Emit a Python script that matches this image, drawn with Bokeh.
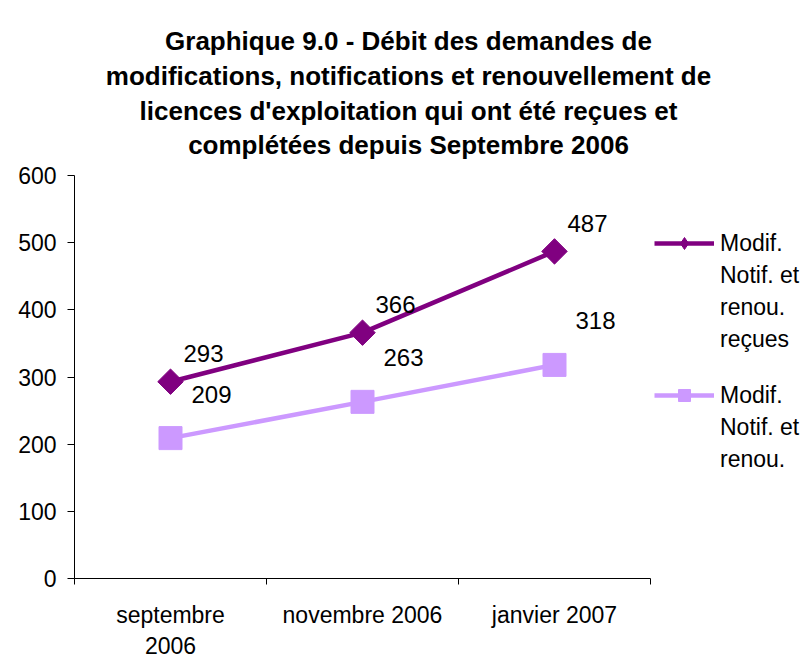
import math
from bokeh.plotting import figure
from bokeh.layouts import column
from bokeh.models import (ColumnDataSource, Range1d, FixedTicker, Legend, LegendItem, Title)
from bokeh.core.properties import value
from bokeh.embed import file_html
from bokeh.resources import INLINE

categories = ["septembre\n2006", "novembre 2006", "janvier 2007"]
recues = [293, 366, 487]
completees = [209, 263, 318]
series1_lines = ["Modif.", "Notif. et", "renou.", "reçues"]
series2_lines = ["Modif.", "Notif. et", "renou."]
title_lines = ["Graphique 9.0 - Débit des demandes de",
               "modifications, notifications et renouvellement de",
               "licences d'exploitation qui ont été reçues et",
               "complétées depuis Septembre 2006"]
y_ticks = [0, 100, 200, 300, 400, 500, 600]

FONT = "Liberation Sans"
DARK = "#800080"
LIGHT = "#CC99FF"
AX_FS = "23px"

W = 810
LEFT = 74
TITLE_CENTER = 408
TITLE_H = 160          # height of the title strip
TOP_PAD = 15           # main plot frame top below the strip
MAIN_H = 661 - TITLE_H
FRAME_BOTTOM = 578     # page y of the x axis

# ---- title strip: a frame-less figure whose frame is centred under the title ----
tf = figure(width=W, height=TITLE_H, output_backend="svg", toolbar_location=None,
            x_axis_location=None, y_axis_location=None,
            min_border_left=LEFT, min_border_right=W - 2 * TITLE_CENTER + LEFT,
            min_border_top=TITLE_H - 1, min_border_bottom=0)
tf.frame_align = False
tf.outline_line_color = None
tf.grid.visible = False
for i, line in enumerate(reversed(title_lines)):
    tf.add_layout(Title(text=line, align="center", text_font=FONT, text_font_size="26px",
                        text_font_style="bold", text_color="black",
                        standoff=0 if i == 0 else 3), "above")

# ---- main chart ----
n = len(categories)
xs = [i + 0.5 for i in range(n)]
src1 = ColumnDataSource(dict(x=xs, y=recues, t=[str(v) for v in recues]))
src2 = ColumnDataSource(dict(x=xs, y=completees, t=[str(v) for v in completees]))

FRAME_W = W - LEFT
CAT_W = 192.0
p = figure(width=W, height=MAIN_H, output_backend="svg", toolbar_location=None,
           x_range=Range1d(0, FRAME_W / CAT_W), y_range=Range1d(0, 600),
           min_border_left=LEFT, min_border_right=0, min_border_top=TOP_PAD,
           min_border_bottom=MAIN_H - (FRAME_BOTTOM - TITLE_H))
p.frame_align = False
p.outline_line_color = None
p.grid.visible = False

p.yaxis.ticker = FixedTicker(ticks=y_ticks, minor_ticks=[])
p.yaxis.major_label_text_font = FONT
p.yaxis.major_label_text_font_size = AX_FS
p.yaxis.major_label_text_color = "black"
p.yaxis.major_tick_in = 0
p.yaxis.major_tick_out = 7
p.yaxis.minor_tick_line_color = None
p.yaxis.axis_line_color = "black"
p.yaxis.major_tick_line_color = "black"
p.yaxis.major_label_standoff = 11

p.xaxis.bounds = (0, n)
p.xaxis.ticker = FixedTicker(ticks=xs, minor_ticks=list(range(n + 1)))
p.xaxis.major_label_overrides = {x: c for x, c in zip(xs, categories)}
p.xaxis.major_label_text_font = FONT
p.xaxis.major_label_text_font_size = AX_FS
p.xaxis.major_label_text_color = "black"
p.xaxis.major_tick_in = 0
p.xaxis.major_tick_out = 0
p.xaxis.minor_tick_in = 0
p.xaxis.minor_tick_out = 6
p.xaxis.minor_tick_line_color = "black"
p.xaxis.axis_line_color = "black"
p.xaxis.major_label_standoff = 17

l1 = p.line("x", "y", source=src1, line_color=DARK, line_width=4.5)
m1 = p.scatter("x", "y", source=src1, marker="square", angle=math.pi / 4, size=18,
               fill_color=DARK, line_color=DARK)
l2 = p.line("x", "y", source=src2, line_color=LIGHT, line_width=4.5)
m2 = p.scatter("x", "y", source=src2, marker="square", size=23,
               fill_color=LIGHT, line_color=LIGHT)

p.text("x", "y", text="t", source=src1, x_offset=13, y_offset=-28, text_font=value(FONT),
       text_font_size="24px", text_color="black", text_baseline="middle", text_align="left")
p.text("x", "y", text="t", source=src2, x_offset=21, y_offset=-44, text_font=value(FONT),
       text_font_size="24px", text_color="black", text_baseline="middle", text_align="left")

# legend-only glyphs (no visible data)
nan = float("nan")
k1 = p.scatter(x=[nan], y=[nan], marker="diamond", fill_color=DARK, line_color=DARK)
k2 = p.scatter(x=[nan], y=[nan], marker="square", fill_color=LIGHT, line_color=LIGHT)
blank = p.scatter(x=[nan], y=[nan], marker="square", fill_alpha=0, line_alpha=0)

def make_legend(lines, rends, loc):
    items = [LegendItem(label=lines[0], renderers=rends)]
    items += [LegendItem(label=t, renderers=[blank]) for t in lines[1:]]
    return Legend(items=items, location=loc, orientation="vertical",
                  label_text_font=FONT, label_text_font_size=AX_FS, label_text_color="black",
                  glyph_width=60, glyph_height=30, label_height=20, label_standoff=6, spacing=2,
                  padding=0, margin=0, border_line_color=None, background_fill_alpha=0)

p.add_layout(make_legend(series1_lines, [l1, k1], (580, 224)))
p.add_layout(make_legend(series2_lines, [l2, k2], (580, 104)))

layout = column(tf, p, spacing=0)
open("out.html", "w").write(file_html(layout, INLINE))
